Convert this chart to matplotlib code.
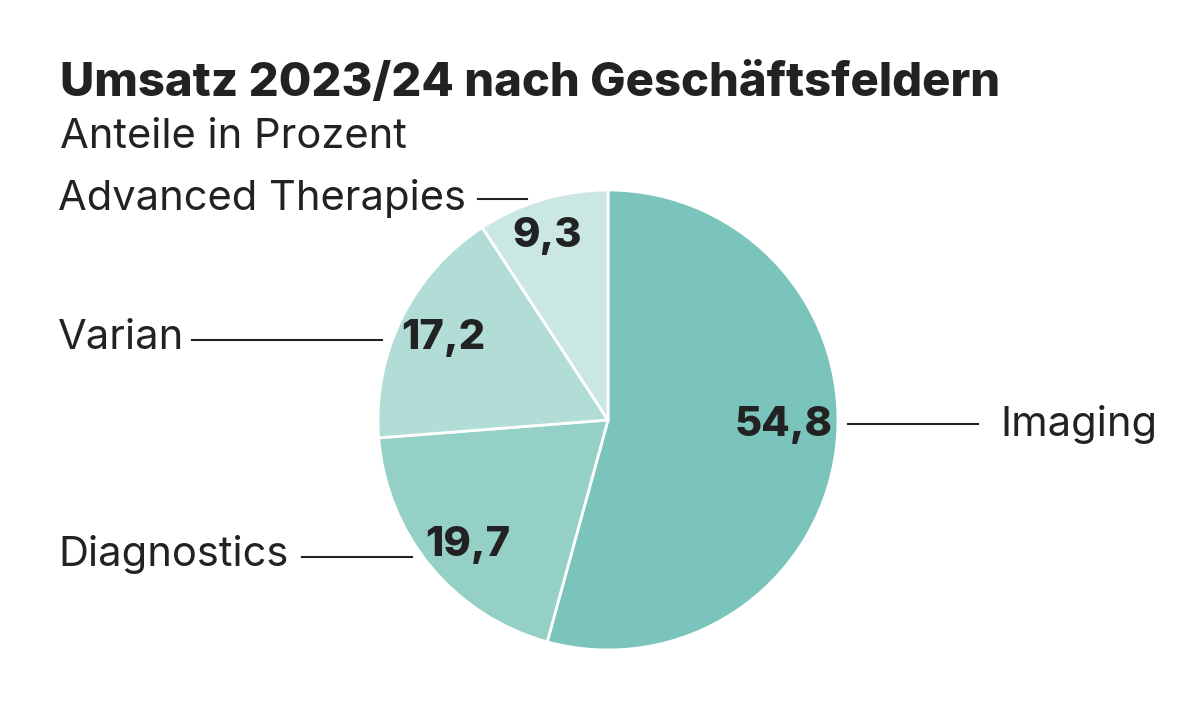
import matplotlib
matplotlib.use("Agg")
import matplotlib.pyplot as plt

# data
segments = ["Imaging", "Diagnostics", "Varian", "Advanced Therapies"]
shares = [54.8, 19.7, 17.2, 9.3]
value_labels = ["54,8", "19,7", "17,2", "9,3"]
colors = ["#7ac4bb", "#95d0c7", "#b2ddd6", "#cbe7e4"]

TEXT = "#222222"
plt.rcParams["font.family"] = ["Inter", "DejaVu Sans"]

W, H = 1200, 725
fig = plt.figure(figsize=(12, 7.25), dpi=100)
ax = fig.add_axes([0, 0, 1, 1])


def py(y):
    # pixel row (from top) -> data y
    return H - y


cx, cy, r = 608, py(420), 230
ax.pie(shares, colors=colors, startangle=90, counterclock=False,
       center=(cx, cy), radius=r, frame=True,
       wedgeprops=dict(edgecolor="white", linewidth=2))
ax.set_xlim(0, W)
ax.set_ylim(0, H)
ax.set_aspect("equal")
ax.axis("off")

# values inside slices
val_pos = [(833, 425, "right"), (468, 545, "center"), (443, 338, "center"), (547, 236, "center")]
for txt, (x, y, ha) in zip(value_labels, val_pos):
    ax.text(x, py(y), txt, ha=ha, va="center", fontsize=30, fontweight="heavy", color=TEXT)

# leader lines and category names
ax.plot([848, 978], [py(424)] * 2, color=TEXT, lw=1.5)
ax.text(1000, py(424), segments[0], ha="left", va="center", fontsize=30, color=TEXT)

ax.plot([302, 412], [py(557)] * 2, color=TEXT, lw=1.5)
ax.text(58, py(555), segments[1], ha="left", va="center", fontsize=30, color=TEXT)

ax.plot([192, 382], [py(340)] * 2, color=TEXT, lw=1.5)
ax.text(58, py(338), segments[2], ha="left", va="center", fontsize=30, color=TEXT)

ax.plot([478, 527], [py(199)] * 2, color=TEXT, lw=1.5)
ax.text(58, py(198), segments[3], ha="left", va="center", fontsize=30, color=TEXT)

# titles
ax.text(60, py(96), "Umsatz 2023/24 nach Geschäftsfeldern", ha="left", va="baseline",
        fontsize=34, fontweight="heavy", color=TEXT)
ax.text(60, py(148), "Anteile in Prozent", ha="left", va="baseline", fontsize=30, color=TEXT)

fig.savefig("out.png", dpi=100, facecolor="white")
